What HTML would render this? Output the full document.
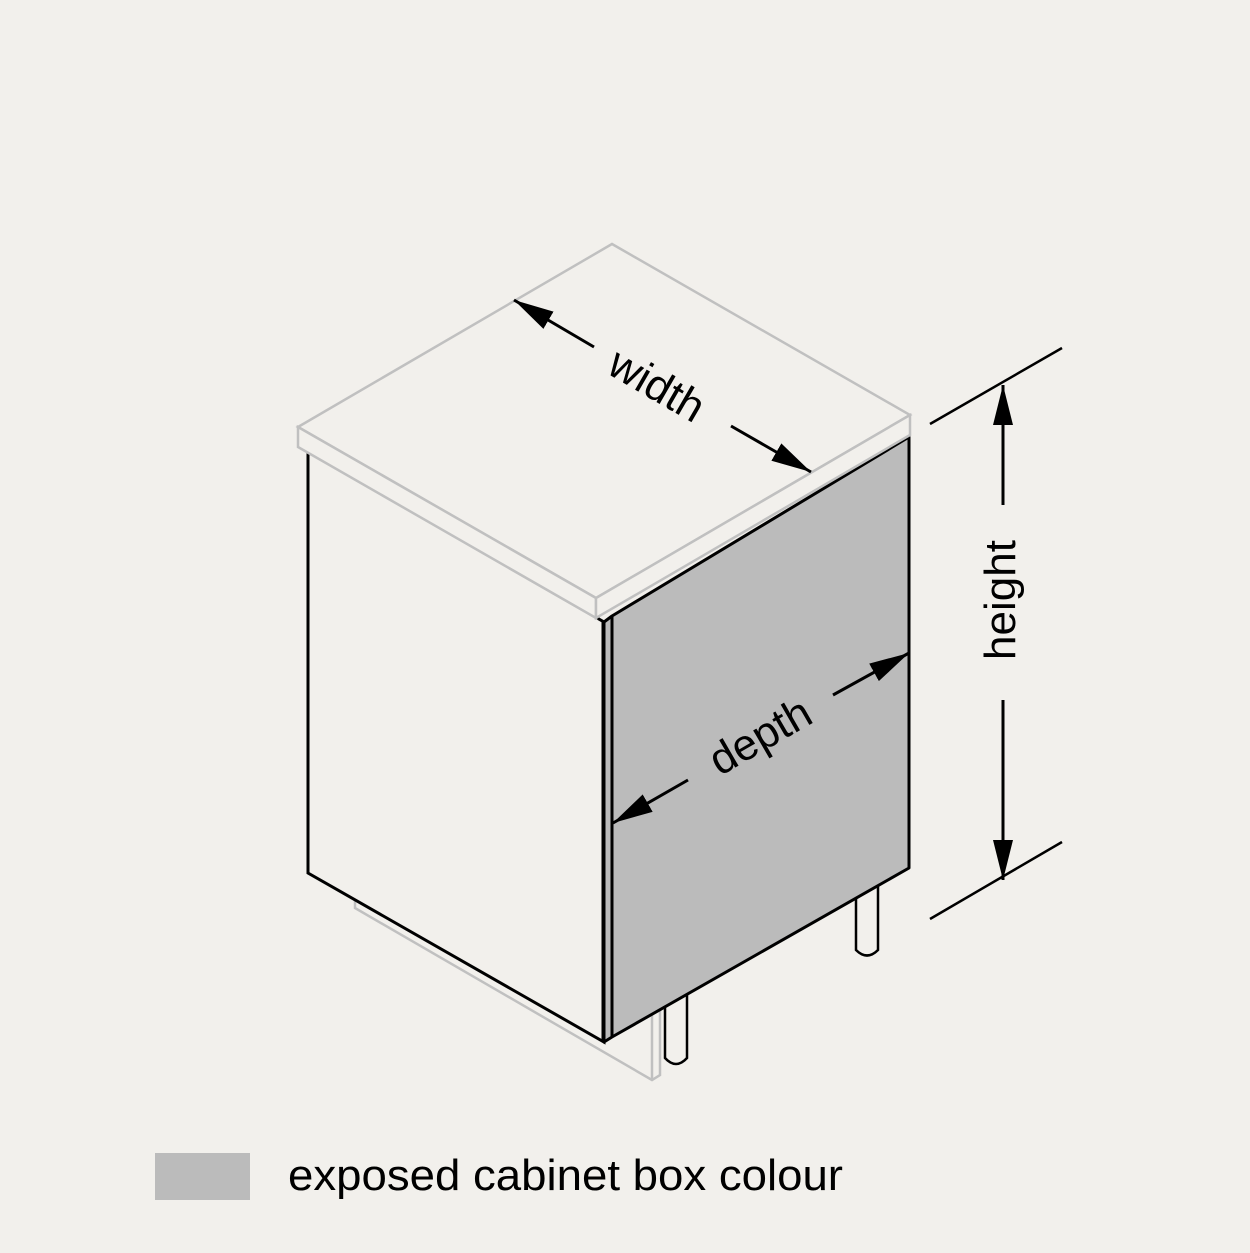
<!DOCTYPE html>
<html><head><style>
html,body{margin:0;padding:0;background:#f2f0ec;}
svg{display:block;}
text{font-family:"Liberation Sans",Arial,sans-serif;fill:#000;}
</style></head><body>
<svg width="1250" height="1253" viewBox="0 0 1250 1253" xmlns="http://www.w3.org/2000/svg">
<defs>
<marker id="ah" viewBox="0 0 40 20" refX="40" refY="10" markerWidth="40" markerHeight="20" markerUnits="userSpaceOnUse" orient="auto">
<path d="M0,0 L40,10 L0,20 Z" fill="#000"/>
</marker>
</defs>
<rect width="1250" height="1253" fill="#f2f0ec"/>
<polyline points="355,898 355,908 652,1080 660,1075 660,1010" fill="none" stroke="#c0c0c0" stroke-width="2.5"/>
<line x1="652" y1="1012" x2="652" y2="1080" stroke="#c0c0c0" stroke-width="2.5"/>
<path d="M665,998 L665,1058 Q676,1070 687,1058 L687,990" fill="#f2f0ec" stroke="#000" stroke-width="2.5"/>
<path d="M856,896 L856,950 Q867,961 878,950 L878,885" fill="#f2f0ec" stroke="#000" stroke-width="2.5"/>
<polygon points="308,452 604,622 604,1042 308,873" fill="#f2f0ec" stroke="#000" stroke-width="3"/>
<line x1="603" y1="622" x2="603" y2="1042" stroke="#000" stroke-width="3"/>
<polygon points="612,616 909,437 909,868 612,1037 604,1042 604,622" fill="#bbbbbb" stroke="#000" stroke-width="3" stroke-linejoin="round"/>
<line x1="612" y1="616" x2="612" y2="1037" stroke="#000" stroke-width="3"/>
<polygon points="298,427 612,244 910,415 596,598" fill="#f2f0ec" stroke="#c0c0c0" stroke-width="2.5"/>
<polygon points="298,427 596,598 596,618 298,447" fill="#f2f0ec" stroke="#c0c0c0" stroke-width="2.5"/>
<polygon points="596,598 910,415 910,435 596,618" fill="#f2f0ec" stroke="#c0c0c0" stroke-width="2.5"/>
<line x1="594" y1="347" x2="514" y2="300" stroke="#000" stroke-width="3" marker-end="url(#ah)"/>
<line x1="731" y1="426" x2="811" y2="472" stroke="#000" stroke-width="3" marker-end="url(#ah)"/>
<text x="0" y="0" font-size="44" text-anchor="middle" transform="translate(657,385) rotate(30) translate(0,15)">width</text>
<line x1="688" y1="780" x2="613" y2="823" stroke="#000" stroke-width="3" marker-end="url(#ah)"/>
<line x1="833" y1="695" x2="909" y2="653" stroke="#000" stroke-width="3" marker-end="url(#ah)"/>
<text x="0" y="0" font-size="44" text-anchor="middle" transform="translate(760,736) rotate(-30) translate(0,15)">depth</text>
<line x1="930" y1="424" x2="1062" y2="348" stroke="#000" stroke-width="2.5"/>
<line x1="930" y1="919" x2="1062" y2="842" stroke="#000" stroke-width="2.5"/>
<line x1="1003" y1="505" x2="1003" y2="385" stroke="#000" stroke-width="3" marker-end="url(#ah)"/>
<line x1="1003" y1="700" x2="1003" y2="880" stroke="#000" stroke-width="3" marker-end="url(#ah)"/>
<text x="0" y="0" font-size="44" text-anchor="middle" transform="translate(1000,600) rotate(-90) translate(0,15)">height</text>
<rect x="155" y="1153" width="95" height="47" fill="#bbbbbb"/>
<text x="288" y="1190" font-size="44" textLength="555" lengthAdjust="spacingAndGlyphs">exposed cabinet box colour</text>
</svg>
</body></html>
